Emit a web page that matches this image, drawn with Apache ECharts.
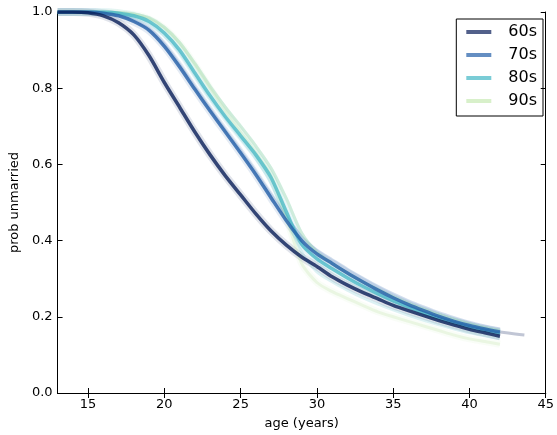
<!DOCTYPE html>
<html>
<head>
<meta charset="utf-8">
<script src="https://cdn.jsdelivr.net/npm/echarts@6/dist/echarts.min.js"></script>
<style>
  html, body { margin: 0; padding: 0; background: #fff; }
  #main { width: 557px; height: 435px; }
</style>
</head>
<body>
<div id="main"></div>
<script>
// ages (years) shared by every curve
const ages = [13, 14, 15, 16, 17, 18, 19, 20, 21, 22, 23, 24, 25, 26, 27,
              28, 29, 30, 31, 32, 33, 34, 35, 36, 37, 38, 39, 40, 41, 42];

// main survival curves, one per decade of birth
const p60 = [1.0, 1.0, 0.998, 0.99, 0.972, 0.94, 0.885, 0.815, 0.75, 0.685, 0.625, 0.57, 0.52, 0.47, 0.425,
             0.388, 0.357, 0.332, 0.305, 0.283, 0.264, 0.247, 0.23, 0.216, 0.203, 0.19, 0.178, 0.167, 0.158, 0.149];
const p70 = [1.0, 1.0, 1.0, 0.997, 0.99, 0.975, 0.952, 0.91, 0.856, 0.797, 0.74, 0.685, 0.63, 0.573, 0.512,
             0.452, 0.40, 0.365, 0.34, 0.315, 0.292, 0.27, 0.25, 0.232, 0.216, 0.201, 0.188, 0.177, 0.168, 0.16];
const p80 = [1.0, 1.0, 1.0, 1.0, 0.997, 0.99, 0.975, 0.945, 0.9, 0.84, 0.78, 0.725, 0.675, 0.625, 0.565,
             0.475, 0.39, 0.352, 0.326, 0.302, 0.28, 0.26, 0.242, 0.226, 0.211, 0.197, 0.185, 0.174, 0.165, 0.157];
const p90 = [1.0, 1.0, 1.0, 1.0, 0.998, 0.994, 0.982, 0.958, 0.918, 0.862, 0.80, 0.74, 0.685, 0.63, 0.57,
             0.46, 0.34, 0.29, 0.266, 0.248, 0.23, 0.213, 0.2, 0.188, 0.176, 0.164, 0.152, 0.142, 0.135, 0.128];

// faint resampled curves (spread around the main ones)
const p70Hi = [1.0, 1.0, 1.0, 0.998, 0.992, 0.978, 0.956, 0.916, 0.862, 0.803, 0.746, 0.69, 0.636, 0.58, 0.52,
               0.462, 0.41, 0.375, 0.35, 0.325, 0.302, 0.28, 0.26, 0.242, 0.226, 0.211, 0.198, 0.186, 0.176, 0.168];
const p80Hi = [1.0, 1.0, 1.0, 1.0, 0.999, 0.995, 0.985, 0.96, 0.92, 0.865, 0.805, 0.75, 0.7, 0.648, 0.59,
               0.51, 0.42, 0.37, 0.34, 0.315, 0.292, 0.272, 0.253, 0.236, 0.22, 0.206, 0.193, 0.182, 0.172, 0.164];
const p80Lo = [1.0, 1.0, 1.0, 1.0, 0.996, 0.987, 0.97, 0.938, 0.893, 0.833, 0.773, 0.72, 0.668, 0.615, 0.55,
               0.46, 0.37, 0.318, 0.292, 0.27, 0.25, 0.233, 0.218, 0.204, 0.191, 0.179, 0.168, 0.158, 0.15, 0.142];
const tailAges = [42, 43, 43.6];
const p70Tail = [0.16, 0.155, 0.152];

const xTicks = [15, 20, 25, 30, 35, 40, 45];
const decades = ['60s', '70s', '80s', '90s'];
const colors = {
  '60s': [8, 29, 88],
  '70s': [34, 94, 168],
  '80s': [65, 182, 196],
  '90s': [199, 233, 180]
};

function rgba(c, a) {
  return 'rgba(' + c[0] + ',' + c[1] + ',' + c[2] + ',' + a + ')';
}

function curve(name, xs, ys, c, alpha, width) {
  return {
    name: name,
    type: 'line',
    symbol: 'none',
    silent: true,
    smooth: 0.25,
    data: ys.map(function (v, i) { return [xs[i], v]; }),
    lineStyle: { color: rgba(c, alpha), width: width, join: 'round' },
    itemStyle: { color: rgba(c, 0.7) },
    emphasis: { disabled: true },
    z: 2
  };
}

const series = [
  curve('halo60', ages, p60, colors['60s'], 0.12, 8),
  curve('halo70', ages, p70, colors['70s'], 0.12, 8),
  curve('halo80', ages, p80, colors['80s'], 0.12, 8),
  curve('halo90', ages, p90, colors['90s'], 0.1, 7),
  curve('hi70', ages, p70Hi, colors['70s'], 0.2, 3),
  curve('tail70', tailAges, p70Tail, colors['60s'], 0.25, 3),
  curve('hi80', ages, p80Hi, colors['80s'], 0.22, 3),
  curve('lo80', ages, p80Lo, colors['80s'], 0.18, 3),
  curve('hi90', ages, p80Hi, colors['90s'], 0.35, 3),
  curve('90s', ages, p90, colors['90s'], 0.3, 3),
  curve('80s', ages, p80, colors['80s'], 0.75, 3.5),
  curve('70s', ages, p70, colors['70s'], 0.8, 3.5),
  curve('60s', ages, p60, colors['60s'], 0.8, 3.5)
];

const axisFont = { color: '#000', fontSize: 13, fontFamily: 'DejaVu Sans' };
const frame = { show: true, lineStyle: { color: '#000', width: 1 } };

const chart = echarts.init(document.getElementById('main'), null, { renderer: 'canvas' });
chart.setOption({
  animation: false,
  backgroundColor: '#fff',
  grid: { left: 54, right: 7, top: 12, bottom: 40 },
  legend: {
    data: decades.map(function (d) {
      return { name: d, icon: 'rect', itemStyle: { color: rgba(colors[d], 0.7) } };
    }),
    orient: 'vertical',
    right: 14,
    top: 19,
    itemWidth: 25,
    itemHeight: 4,
    itemGap: 7,
    padding: [5, 6, 7, 10],
    borderColor: '#000',
    borderWidth: 1,
    selectedMode: false,
    textStyle: {
      color: '#000', fontSize: 16, fontFamily: 'DejaVu Sans',
      lineHeight: 16, padding: [0, 0, 0, 12]
    }
  },
  xAxis: [{
    type: 'value', min: 13, max: 45, position: 'bottom',
    name: 'age (years)', nameLocation: 'middle', nameGap: 24,
    nameTextStyle: { color: '#000', fontSize: 13, fontFamily: 'DejaVu Sans' },
    axisLine: frame,
    axisTick: { show: true, inside: true, length: 5, customValues: xTicks, lineStyle: { color: '#000' } },
    axisLabel: Object.assign({ customValues: xTicks, margin: 5 }, axisFont),
    splitLine: { show: false }
  }, {
    type: 'value', min: 13, max: 45, position: 'top',
    axisLine: frame,
    axisTick: { show: true, inside: true, length: 5, customValues: xTicks, lineStyle: { color: '#000' } },
    axisLabel: { show: false },
    splitLine: { show: false }
  }],
  yAxis: [{
    type: 'value', min: 0, max: 1, interval: 0.2, position: 'left',
    name: 'prob unmarried', nameLocation: 'middle', nameGap: 27,
    nameTextStyle: { color: '#000', fontSize: 13, fontFamily: 'DejaVu Sans' },
    axisLine: frame,
    axisTick: { show: true, inside: true, length: 5, lineStyle: { color: '#000' } },
    axisLabel: Object.assign({ margin: 5, formatter: function (v) { return v.toFixed(1); } }, axisFont),
    splitLine: { show: false }
  }, {
    type: 'value', min: 0, max: 1, interval: 0.2, position: 'right',
    axisLine: frame,
    axisTick: { show: true, inside: true, length: 5, lineStyle: { color: '#000' } },
    axisLabel: { show: false },
    splitLine: { show: false }
  }],
  series: series
});
</script>
</body>
</html>
